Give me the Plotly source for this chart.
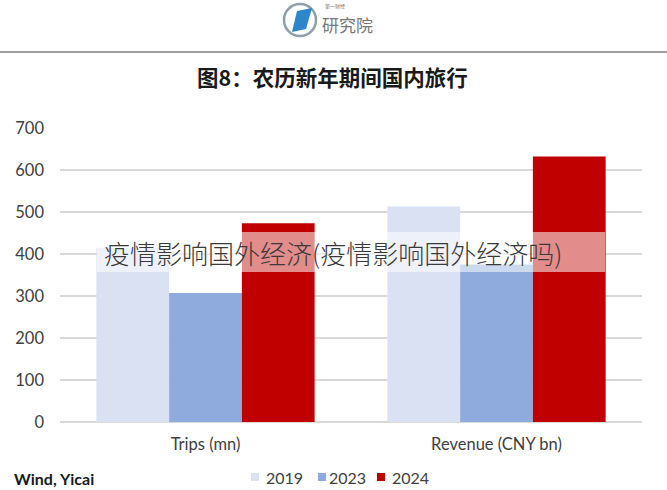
import plotly.graph_objects as go

categories = ["Trips (mn)", "Revenue (CNY bn)"]
years = ["2019", "2023", "2024"]
values_2019 = [415, 513]
values_2023 = [307, 375]
values_2024 = [473, 632]
colors = ["#D9E1F2", "#8FAADC", "#C00000"]
tick_vals = [0, 100, 200, 300, 400, 500, 600, 700]

W, H = 667, 490
L, R, T, B = 60, 25, 128, 68
PW, PH = W - L - R, H - T - B

def px(x):
    return (x - L) / PW

def py(y):
    return (H - B - y) / PH

fig = go.Figure()
for name, vals, col in zip(years, [values_2019, values_2023, values_2024], colors):
    fig.add_trace(go.Bar(x=categories, y=vals, name=name, showlegend=False,
                         marker=dict(color=col, line=dict(width=0))))

font_main = "Lato, 'Open Sans', sans-serif"
cjk = "'Noto Sans CJK SC', sans-serif"

fig.update_layout(
    width=W, height=H,
    margin=dict(l=L, r=R, t=T, b=B, autoexpand=False),
    paper_bgcolor="white", plot_bgcolor="white",
    barmode="group", bargap=0.25, bargroupgap=0,
    font=dict(family=font_main, color="#404040", size=15),
    showlegend=False,
    xaxis=dict(showgrid=False, showline=False, ticks="", tickfont=dict(size=16.5, color="#404040"),
               ticklabelstandoff=10),
    yaxis=dict(range=[0, 700], tickvals=tick_vals, showgrid=True, gridcolor="#D9D9D9", gridwidth=1.5,
               zeroline=True, zerolinecolor="#D9D9D9", zerolinewidth=1.5, showline=False, ticks="",
               tickfont=dict(size=16.5, color="#404040"), ticklabelstandoff=15),
)

shapes = []
# header separator line
shapes.append(dict(type="line", xref="paper", yref="paper", x0=px(0), x1=px(667), y0=py(52), y1=py(52),
                   line=dict(color="#7F7F7F", width=1.5), layer="above"))
# logo ring
shapes.append(dict(type="circle", xref="paper", yref="paper", x0=px(284), x1=px(316), y0=py(4), y1=py(36),
                   line=dict(color="#8CA0A8", width=2.5), fillcolor="rgba(0,0,0,0)", layer="above"))
shapes.append(dict(type="path", xref="paper", yref="paper",
                   path=f"M {px(292)} {py(32)} L {px(297)} {py(11)} L {px(312)} {py(8)} L {px(306)} {py(29)} Z",
                   fillcolor="#2E86C8", line=dict(width=0), layer="above"))
# watermark band
shapes.append(dict(type="rect", xref="paper", yref="paper", x0=px(97), x1=px(605), y0=py(272), y1=py(232),
                   fillcolor="rgba(255,255,255,0.55)", line=dict(width=0), layer="above"))

# manual legend
legend_sq_x = [251, 318, 377]
legend_tx_x = [264, 327, 390]
ann = []
for name, col, sx, tx in zip(years, colors, legend_sq_x, legend_tx_x):
    shapes.append(dict(type="rect", xref="paper", yref="paper", x0=px(sx), x1=px(sx + 8),
                       y0=py(481), y1=py(473), fillcolor=col, line=dict(width=0)))
    ann.append(dict(text=name, x=px(tx), y=py(477), xref="paper", yref="paper", showarrow=False,
                    font=dict(family=font_main, size=16, color="#404040"), xanchor="left", yanchor="middle"))
fig.update_layout(shapes=shapes)

ann += [
    dict(text="<b>图8：农历新年期间国内旅行</b>", x=px(332), y=py(77), xref="paper", yref="paper",
         showarrow=False, font=dict(family=cjk, size=21.5, color="#1a1a1a"), xanchor="center", yanchor="middle"),
    dict(text="第一财经", x=px(323), y=py(6), xref="paper", yref="paper", showarrow=False,
         font=dict(family=cjk, size=5, color="#777777"), xanchor="left", yanchor="middle"),
    dict(text="研究院", x=px(320), y=py(24), xref="paper", yref="paper", showarrow=False,
         font=dict(family=cjk, size=17, color="#777777"), xanchor="left", yanchor="middle"),
    dict(text="<b>Wind, Yicai</b>", x=px(12), y=py(478), xref="paper", yref="paper", showarrow=False,
         font=dict(family=font_main, size=16, color="#1a1a1a"), xanchor="left", yanchor="middle"),
    dict(text="疫情影响国外经济(疫情影响国外经济吗)", x=px(333), y=py(252), xref="paper", yref="paper",
         showarrow=False, font=dict(family=cjk, size=26, color="#3a3a3a", weight=300),
         xanchor="center", yanchor="middle"),
]
fig.update_layout(annotations=ann)

fig.write_html("out.html", config={"displayModeBar": False},
               post_script="document.body.style.margin='0';document.body.style.overflow='hidden';")
